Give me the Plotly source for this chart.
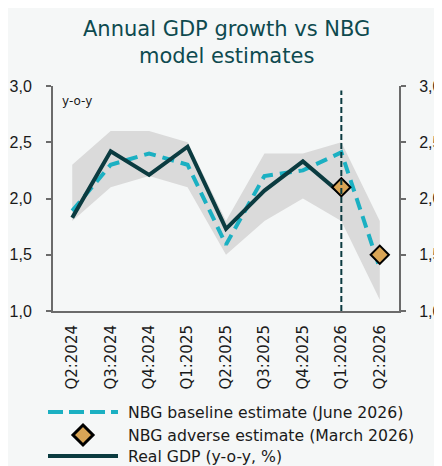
import plotly.graph_objects as go

quarters = ["Q2:2024", "Q3:2024", "Q4:2024", "Q1:2025", "Q2:2025",
            "Q3:2025", "Q4:2025", "Q1:2026", "Q2:2026"]
real_gdp = [1.83, 2.42, 2.21, 2.46, 1.73, 2.07, 2.33, 2.04]
baseline = [1.89, 2.30, 2.40, 2.30, 1.59, 2.20, 2.25, 2.41, 1.38]
band_upper = [2.30, 2.60, 2.60, 2.50, 1.80, 2.40, 2.40, 2.50, 1.80]
band_lower = [1.80, 2.10, 2.20, 2.10, 1.50, 1.80, 2.00, 1.80, 1.10]
adverse_x = ["Q1:2026", "Q2:2026"]
adverse = [2.10, 1.50]
y_ticks = [1.0, 1.5, 2.0, 2.5, 3.0]
legend_labels = ["NBG baseline estimate (June 2026)",
                 "NBG adverse estimate (March 2026)",
                 "Real GDP (y-o-y, %)"]

FONT = "DejaVu Sans"
YFONT = "Liberation Sans"
TEAL_DARK = "#0B3B40"
CYAN = "#1BB0C2"
GOLD = "#D9A556"
AXIS = "#6B6B6B"
BG = "#F5F7F7"
TXT = "#1A1A1A"

# page is offset by the 8px body margin
OFF = 8
W, H = 442 - OFF, 466 - OFF
L, R, T, B = 53 - OFF, 43, 86 - OFF, 155
PW, PH = W - L - R, H - T - B


def px(x):
    """page pixel x -> paper x"""
    return (x - OFF - L) / PW


def py(y):
    """page pixel y -> paper y"""
    return (H - B - (y - OFF)) / PH


fig = go.Figure()

fig.add_trace(go.Scatter(x=quarters, y=band_lower, mode="lines",
                         line=dict(width=0), showlegend=False, hoverinfo="skip"))
fig.add_trace(go.Scatter(x=quarters, y=band_upper, mode="lines",
                         line=dict(width=0), fill="tonexty",
                         fillcolor="#DADADA", showlegend=False, hoverinfo="skip"))
fig.add_trace(go.Scatter(x=quarters, y=baseline, mode="lines",
                         name=legend_labels[0], showlegend=False,
                         line=dict(color=CYAN, width=4, dash="12px,7px")))
fig.add_trace(go.Scatter(x=quarters[:len(real_gdp)], y=real_gdp, mode="lines",
                         name=legend_labels[2], showlegend=False,
                         line=dict(color=TEAL_DARK, width=4)))
fig.add_trace(go.Scatter(x=adverse_x, y=adverse, mode="markers",
                         name=legend_labels[1], showlegend=False,
                         marker=dict(symbol="diamond", size=14, color=GOLD,
                                     line=dict(color="#000000", width=2))))
# invisible trace for right axis
fig.add_trace(go.Scatter(x=quarters, y=baseline, yaxis="y2", mode="lines",
                         line=dict(width=0), showlegend=False, hoverinfo="skip",
                         opacity=0))

shapes = [
    dict(type="line", xref="x", yref="y", x0="Q1:2026", x1="Q1:2026",
         y0=1.0, y1=2.96, line=dict(color=TEAL_DARK, width=2, dash="6px,3px"),
         layer="above"),
]

# manual legend
rows = [412, 435, 456]
lx0, lx1, tx = 48, 118, 126
shapes.append(dict(type="line", xref="paper", yref="paper",
                   x0=px(lx0), x1=px(lx1), y0=py(rows[0]), y1=py(rows[0]),
                   line=dict(color=CYAN, width=4, dash="15px,6px")))
shapes.append(dict(type="line", xref="paper", yref="paper",
                   x0=px(lx0), x1=px(lx1), y0=py(rows[2]), y1=py(rows[2]),
                   line=dict(color=TEAL_DARK, width=4)))
cx, cy, hw = 83, rows[1], 10
shapes.append(dict(type="path", xref="paper", yref="paper",
                   path=(f"M{px(cx)},{py(cy - hw)} L{px(cx + hw)},{py(cy)} "
                         f"L{px(cx)},{py(cy + hw)} L{px(cx - hw)},{py(cy)} Z"),
                   fillcolor=GOLD, line=dict(color="#000000", width=3)))

annotations = [
    dict(text="Annual GDP growth vs NBG<br>model estimates",
         x=px(226), y=py(42), xref="paper", yref="paper",
         xanchor="center", yanchor="middle", showarrow=False,
         font=dict(family=FONT, size=21, color="#0E4A4F")),
    dict(text="y-o-y", x=px(60), y=py(92), xref="paper", yref="paper",
         xanchor="left", yanchor="top", showarrow=False,
         font=dict(family=FONT, size=12, color=TXT)),
]
for lab, r in zip(legend_labels, rows):
    annotations.append(dict(text=lab, x=px(tx), y=py(r), xref="paper",
                            yref="paper", xanchor="left", yanchor="middle",
                            showarrow=False,
                            font=dict(family=FONT, size=15.7, color=TXT)))

fig.update_layout(
    width=W, height=H,
    paper_bgcolor=BG, plot_bgcolor=BG,
    separators=", ",
    margin=dict(l=L, r=R, t=T, b=B, autoexpand=False),
    font=dict(family=FONT, size=15, color=TXT),
    xaxis=dict(type="category", categoryorder="array", categoryarray=quarters,
               range=[-0.5, 8.5], showline=True, linecolor=AXIS, linewidth=2,
               ticks="", tickangle=-90, tickfont=dict(size=15, color=TXT),
               showgrid=False, zeroline=False, ticklabelstandoff=6,
               automargin=False),
    yaxis=dict(range=[1.0, 3.0], tickvals=y_ticks, tickformat=".1f",
               showline=True, linecolor=AXIS, linewidth=2, ticks="outside",
               ticklen=5, tickcolor=AXIS, tickwidth=2, showgrid=False,
               zeroline=False, tickfont=dict(family=YFONT, size=16, color=TXT),
               ticklabelstandoff=11, automargin=False),
    yaxis2=dict(range=[1.0, 3.0], tickvals=y_ticks, tickformat=".1f",
                overlaying="y", side="right",
                showline=True, linecolor=AXIS, linewidth=2, ticks="outside",
                ticklen=5, tickcolor=AXIS, tickwidth=2, showgrid=False,
                zeroline=False, tickfont=dict(family=YFONT, size=16, color=TXT),
                ticklabelstandoff=10, automargin=False),
    shapes=shapes,
    annotations=annotations,
    showlegend=False,
)

fig.write_html("out.html")
